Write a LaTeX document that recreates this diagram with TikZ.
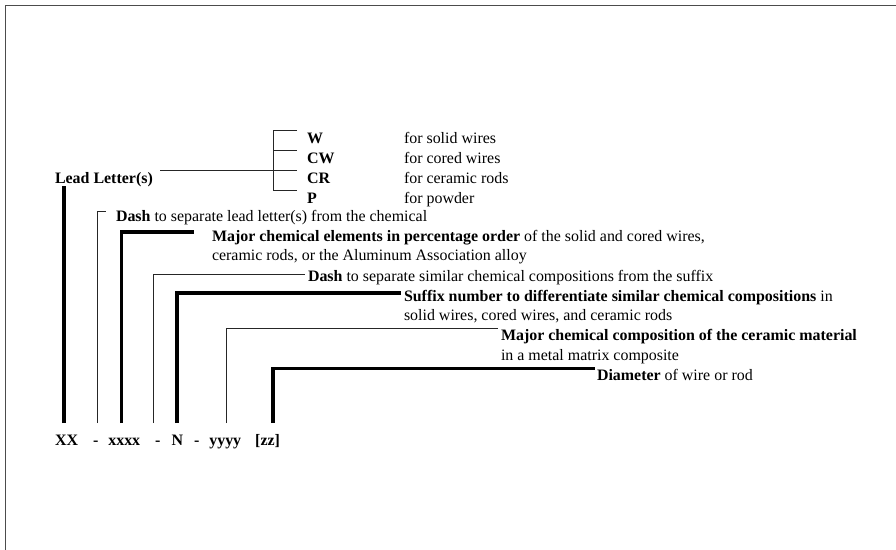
\documentclass[tikz,border=0pt]{standalone}
\usepackage{fontspec}
\setmainfont{Liberation Serif}
\begin{document}
\begin{tikzpicture}[x=1bp,y=-1bp,
  txt/.style={font=\fontsize{16}{19}\selectfont, anchor=base west, inner sep=0pt, outer sep=0pt},
  thk/.style={line width=3.5bp, line cap=butt, line join=miter},
  thn/.style={line width=0.9bp, draw=black!85},
  frm/.style={line width=1.6bp, draw=black!70}]
\useasboundingbox (0,0) rectangle (896,550);
% frame
\coordinate (fbl) at (5.5,560);
\coordinate (ftl) at (5.5,5.5);
\coordinate (ftr) at (905,5.5);
\draw[frm] (fbl) -- (ftl) -- (ftr);

% lead letters
\node[txt] (lead) at (55,184) {\textbf{Lead Letter(s)}};
\node[txt] (w)  at (307,144) {\textbf{W}};
\node[txt] (cw) at (307,164) {\textbf{CW}};
\node[txt] (cr) at (307,184) {\textbf{CR}};
\node[txt] (p)  at (307,204) {\textbf{P}};
\node[txt] (fw)  at (404,144) {for solid wires};
\node[txt] (fcw) at (404,164) {for cored wires};
\node[txt] (fcr) at (404,184) {for ceramic rods};
\node[txt] (fp)  at (404,204) {for powder};

\coordinate (k1) at (297,130);
\coordinate (k2) at (297,150);
\coordinate (k3) at (297,170);
\coordinate (k4) at (297,190);
\coordinate (kv1) at (273,130);
\coordinate (kv4) at (273,190);
\coordinate (kv2) at (273,150);
\coordinate (ls) at (160,170);
\draw[thn] (k1) -- (kv1) -- (kv4) -- (k4);
\draw[thn] (kv2) -- (k2);
\draw[thn] (ls) -- (k3);

% descriptions
\node[txt] (d1) at (116,222) {\textbf{Dash} to separate lead letter(s) from the chemical};
\node[txt] (m1) at (212,242) {\textbf{Major chemical elements in percentage order} of the solid and cored wires,};
\node[txt] (m1b) at (212,261) {ceramic rods, or the Aluminum Association alloy};
\node[txt] (d2) at (308,282) {\textbf{Dash} to separate similar chemical compositions from the suffix};
\node[txt] (sf) at (404,302) {\textbf{Suffix number to differentiate similar chemical compositions} in};
\node[txt] (sfb) at (404,321) {solid wires, cored wires, and ceramic rods};
\node[txt] (cc) at (501,341) {\textbf{Major chemical composition of the ceramic material}};
\node[txt] (ccb) at (501,360) {in a metal matrix composite};
\node[txt] (dm) at (597,380) {\textbf{Diameter} of wire or rod};

% designation
\node[txt] (code) at (55,445) {\textbf{XX\hspace{15bp}-\hspace{10bp}xxxx\hspace{15bp}-\hspace{11bp}N\hspace{11bp}-\hspace{10bp}yyyy\hspace{14bp}[zz]}};

% connectors
\coordinate (t0) at (64,186);   \coordinate (b0) at (64,423);
\coordinate (e1) at (106,211.5); \coordinate (b1) at (97.5,423);
\coordinate (e2) at (194,232);  \coordinate (b2) at (121.5,423);
\coordinate (e3) at (305,274);  \coordinate (b3) at (153,423);
\coordinate (e4) at (401,293);  \coordinate (b4) at (177,423);
\coordinate (e5) at (498,328);  \coordinate (b5) at (226,423);
\coordinate (e6) at (595,368.5); \coordinate (b6) at (273,423);

\draw[thk] (b0) -- (t0);
\draw[thn] (b1) |- (e1);
\draw[thk] (b2) |- (e2);
\draw[thn] (b3) |- (e3);
\draw[thk] (b4) |- (e4);
\draw[thn] (b5) |- (e5);
\draw[thk] (b6) |- (e6);
\end{tikzpicture}
\end{document}
